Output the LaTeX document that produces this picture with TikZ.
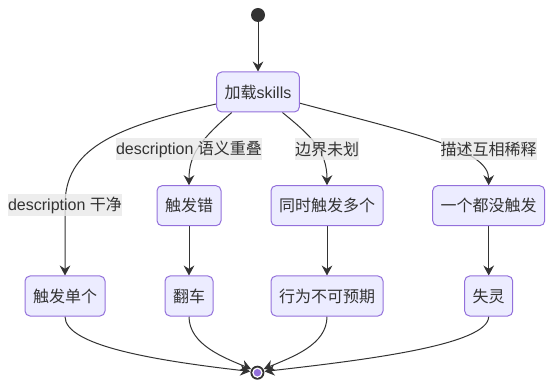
\documentclass[tikz,border=0pt]{standalone}
\usepackage{fontspec}
\setmainfont{Liberation Sans}
\newfontfamily\cjk{Noto Sans CJK SC}
\usetikzlibrary{arrows.meta,backgrounds}
\definecolor{boxfill}{HTML}{ECECFF}
\definecolor{boxline}{HTML}{9370DB}
\definecolor{ink}{HTML}{333333}
\definecolor{lblbg}{HTML}{E8E8E8}
\definecolor{dotfill}{HTML}{9370DB}
\tikzset{
  box/.style    = {rectangle, rounded corners=3.75pt, draw=boxline, fill=boxfill,
                   line width=0.75pt, minimum height=30pt, inner xsep=6pt,
                   text=ink, font=\fontsize{12pt}{14pt}\selectfont},
  elabel/.style = {rectangle, fill=lblbg, fill opacity=0.8, text opacity=1,
                   inner xsep=0pt, inner ysep=0pt, minimum height=16.5pt,
                   text=ink, font=\fontsize{12pt}{14pt}\selectfont},
  dot/.style    = {circle, fill=ink, minimum size=10.5pt, inner sep=0pt},
  flow/.style   = {-{Stealth[length=7.5pt, width=8pt, inset=2.5pt]}, draw=ink, line width=0.75pt},
}

\begin{document}
\begin{tikzpicture}[x=0.75pt, y=-0.75pt]
      \useasboundingbox (0,0) rectangle (553,388);

      \node[dot] (start) at (258, 15) {};
      \node[box] (load)  at (258, 92) {{\cjk 加载}skills};

      \node[box] (err)   at (189, 205.7)   {\cjk 触发错};
      \node[box] (multi) at (327, 205.7)   {\cjk 同时触发多个};
      \node[box] (none)  at (488.7, 205.7) {\cjk 一个都没触发};

      \node[box] (single) at (65, 296)    {\cjk 触发单个};
      \node[box] (flip)   at (189, 296)   {\cjk 翻车};
      \node[box] (odd)    at (327, 296)   {\cjk 行为不可预期};
      \node[box] (fail)   at (488.7, 296) {\cjk 失灵};

      \node[dot] (end) at (257.4, 372.7) {};
      \fill[white] (end.center) circle[radius=3.9pt];
      \fill[dotfill] (end.center) circle[radius=2.8pt];

      \node[elabel] (lclean) at (65, 205.5)    {description {\cjk 干净}};
      \node[elabel] (lover)  at (189, 149.5)   {description {\cjk 语义重叠}};
      \node[elabel] (lbound) at (327, 149.5)   {\cjk 边界未划};
      \node[elabel] (ldilut) at (488.5, 149.5) {\cjk 描述互相稀释};

      \begin{scope}[on background layer]
        \draw[flow] (start) -- (load);
        \draw[flow] (load.196) .. controls (110,128) and (65,150) .. (lclean.center) -- (single.north);
        \draw[flow] (load.218) .. controls (200,140) and (189,155) .. (err.north);
        \draw[flow] (load.320) .. controls (310,135) and (327,150) .. (multi.north);
        \draw[flow] (load.345) .. controls (420,135) and (488.7,150) .. (none.north);

        \draw[flow] (err) -- (flip);
        \draw[flow] (multi) -- (odd);
        \draw[flow] (none) -- (fail);

        \draw[flow] (single.south) .. controls (65,345) and (150,360) .. (end.170);
        \draw[flow] (flip.south) .. controls (189,345) and (225,358) .. (end.150);
        \draw[flow] (odd.south) .. controls (327,345) and (292,357) .. (end.30);
        \draw[flow] (fail.south) .. controls (488.7,345) and (365,360) .. (end.10);
      \end{scope}
    \end{tikzpicture}
\end{document}
